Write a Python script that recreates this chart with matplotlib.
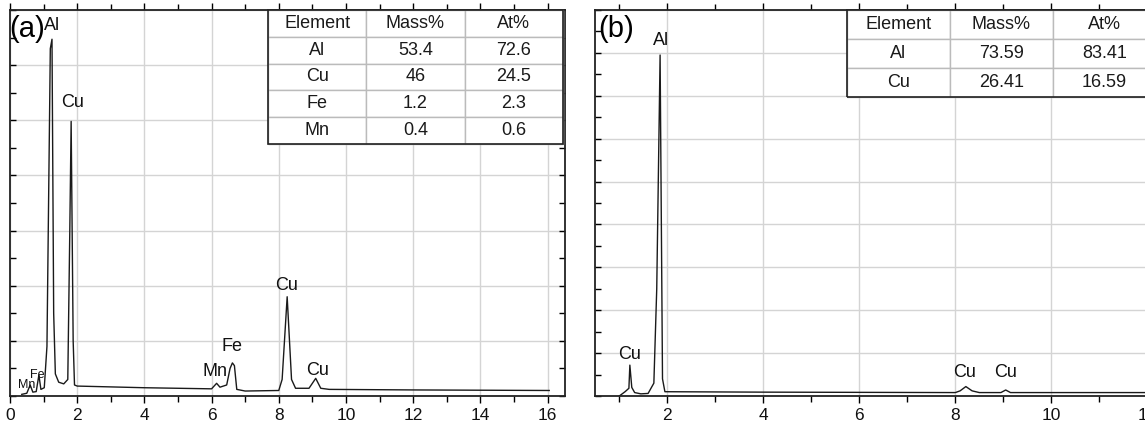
import numpy as np
import matplotlib
matplotlib.use("Agg")
import matplotlib.pyplot as plt
from matplotlib.patches import Rectangle

plt.rcParams['font.family'] = ['Liberation Sans', 'DejaVu Sans']

# spectrum (a): energy (keV) / intensity (a.u.)
energy_a = [0.35, 0.5, 0.6, 0.68, 0.78, 0.86, 0.92, 1.02, 1.1, 1.2, 1.25, 1.3, 1.35, 1.45, 1.6,
            1.72, 1.78, 1.82, 1.88, 1.92, 2.0, 4.0, 6.0, 6.15, 6.25, 6.45, 6.55, 6.62, 6.68,
            6.75, 7.0, 8.0, 8.1, 8.25, 8.38, 8.5, 8.9, 9.1, 9.25, 9.5, 12.0, 16.05]
counts_a = [0.03, 0.05, 0.2, 0.07, 0.08, 0.38, 0.12, 0.15, 0.9, 6.3, 6.47, 1.5, 0.4, 0.25, 0.22,
            0.3, 3.0, 4.98, 1.0, 0.2, 0.18, 0.15, 0.13, 0.23, 0.16, 0.2, 0.5, 0.6, 0.55,
            0.12, 0.09, 0.1, 0.3, 1.8, 0.3, 0.14, 0.14, 0.32, 0.14, 0.12, 0.11, 0.1]

# spectrum (b)
energy_b = [1.0, 1.12, 1.2, 1.22, 1.26, 1.32, 1.45, 1.6, 1.72, 1.78, 1.85, 1.9, 1.95, 4.0,
            8.0, 8.1, 8.22, 8.35, 8.5, 8.95, 9.05, 9.15, 12.2]
counts_b = [0.0, 0.1, 0.18, 0.72, 0.2, 0.08, 0.05, 0.06, 0.3, 2.5, 7.95, 0.4, 0.1, 0.09,
            0.08, 0.12, 0.22, 0.12, 0.08, 0.08, 0.14, 0.08, 0.08]

# peak labels: (text, x, y, size)
labels_a = [("Al", 1.25, 6.72, 13), ("Cu", 1.85, 5.33, 13), ("Mn", 0.5, 0.2, 9), ("Fe", 0.8, 0.38, 9),
            ("Mn", 6.1, 0.44, 13), ("Fe", 6.6, 0.89, 13), ("Cu", 8.22, 2.0, 13), ("Cu", 9.14, 0.47, 13)]
labels_b = [("Al", 1.86, 8.3, 13), ("Cu", 1.22, 0.97, 13), ("Cu", 8.2, 0.55, 13), ("Cu", 9.05, 0.55, 13)]

table_head = ["Element", "Mass%", "At%"]
table_a = [["Al", "53.4", "72.6"], ["Cu", "46", "24.5"], ["Fe", "1.2", "2.3"], ["Mn", "0.4", "0.6"]]
table_b = [["Al", "73.59", "83.41"], ["Cu", "26.41", "16.59"]]

fig = plt.figure(figsize=(11.45, 4.22), dpi=100)
ax_a = fig.add_axes([10 / 1145, 26 / 422, 555 / 1145, 386 / 422])
ax_b = fig.add_axes([595.3 / 1145, 26 / 422, 561.6 / 1145, 386 / 422])


def style_axes(ax, xlim, ylim):
    ax.set_xticks(np.arange(0, 17, 2))
    ax.set_xticks(np.arange(1, 17, 2), minor=True)
    ax.set_yticks(np.arange(0, ylim[1] + 0.01, 1))
    ax.set_yticks(np.arange(0.5, ylim[1], 1), minor=True)
    ax.set_xlim(*xlim)
    ax.set_ylim(*ylim)
    ax.grid(True, which='major', color='#d4d4d4', linewidth=1.0)
    ax.set_axisbelow(True)
    ax.tick_params(axis='x', which='both', direction='out', top=True, labelsize=12.5, length=5, width=1,
                   labelcolor='#111111')
    ax.tick_params(axis='x', which='minor', length=4)
    ax.tick_params(axis='y', which='both', direction='in', right=True, labelleft=False, length=4, width=1)
    for s in ax.spines.values():
        s.set_linewidth(1.3)
        s.set_color('#222222')


def draw_table(ax, rows, bbox):
    tb = ax.table(cellText=[table_head] + rows, cellLoc='center', bbox=bbox, zorder=5)
    tb.auto_set_font_size(False)
    for (r, c), cell in tb.get_celld().items():
        cell.set_edgecolor('#bbbbbb')
        cell.set_linewidth(1.0)
        cell.set_facecolor('white')
        cell.get_text().set_fontsize(13)
        cell.get_text().set_color('#1a1a1a')
    ax.add_patch(Rectangle((bbox[0], bbox[1]), bbox[2], bbox[3], transform=ax.transAxes,
                           fill=False, edgecolor='#222222', linewidth=1.2, zorder=6, clip_on=False))


style_axes(ax_a, (0, 16.52), (0, 7))
ax_a.plot(energy_a, counts_a, color='#1a1a1a', linewidth=1.0)
for t, x, y, s in labels_a:
    ax_a.text(x, y, t, ha='center', va='center', fontsize=s, color='#111111')
ax_a.text(-0.002, 0.95, "(a)", transform=ax_a.transAxes, fontsize=21, ha='left', va='center')
draw_table(ax_a, table_a, [0.465, 0.653, 0.531, 0.347])

style_axes(ax_b, (0.5, 12.2), (0, 9))
ax_b.plot(energy_b, counts_b, color='#1a1a1a', linewidth=1.0)
for t, x, y, s in labels_b:
    ax_b.text(x, y, t, ha='center', va='center', fontsize=s, color='#111111')
ax_b.text(0.006, 0.95, "(b)", transform=ax_b.transAxes, fontsize=21, ha='left', va='center')
draw_table(ax_b, table_b, [0.448, 0.775, 0.55, 0.225])

fig.savefig("out.png", dpi=100)
